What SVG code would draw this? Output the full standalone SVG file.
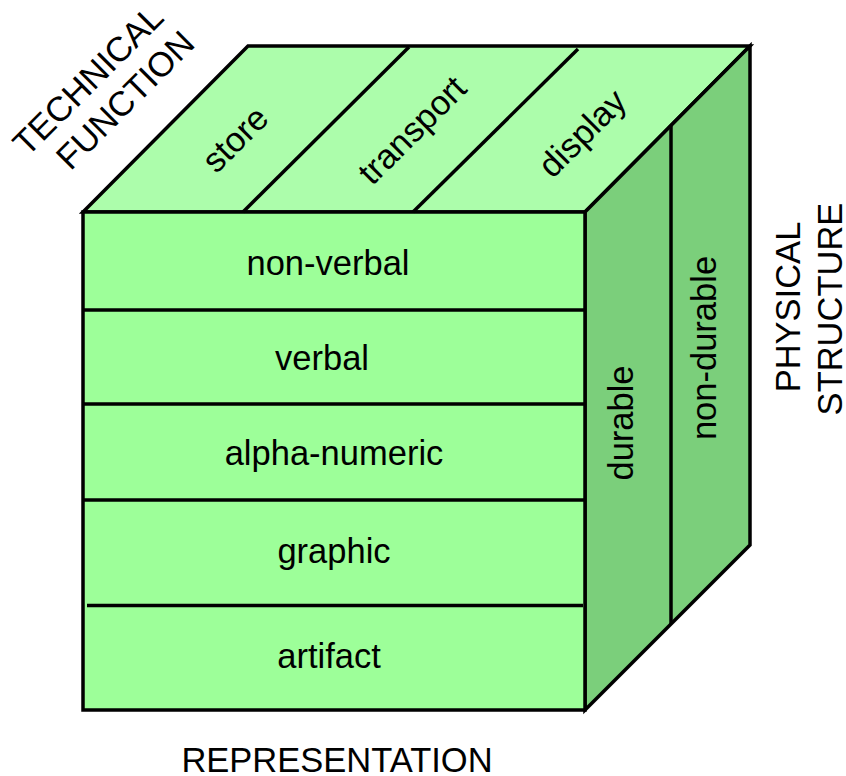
<svg xmlns="http://www.w3.org/2000/svg" width="846" height="776" viewBox="0 0 846 776">
  <style>
    .edge { stroke: #000; stroke-width: 3.5; stroke-linejoin: miter; }
    .front { fill: #9dff99; }
    .top { fill: #acfdab; }
    .side { fill: #7bcf7b; }
    .lbl { font-family: "Liberation Sans", Arial, Helvetica, sans-serif; font-size: 34.5px; fill: #000; }
  </style>

  <!-- cube faces -->
  <g id="top-face">
    <polygon class="top edge" points="83,212 248,46 750,46 585,212"/>
  </g>
  <g id="right-face">
    <polygon class="side edge" points="585,212 750,46 750,545 585,710"/>
  </g>
  <g id="front-face">
    <rect class="front edge" x="83" y="212" width="502" height="498"/>
  </g>

  <!-- dividing lines between the cells -->
  <g id="connectors" class="edge" fill="none">
    <line x1="243" y1="212" x2="409" y2="47"/>
    <line x1="413" y1="212" x2="578" y2="49"/>
    <line x1="671" y1="126" x2="671" y2="624"/>
    <line x1="83" y1="310" x2="585" y2="310"/>
    <line x1="83" y1="404" x2="585" y2="404"/>
    <line x1="83" y1="500" x2="585" y2="500"/>
    <line x1="87" y1="605.5" x2="583" y2="605.5"/>
  </g>

  <!-- technical function cells -->
  <g id="store">
    <text class="lbl" text-anchor="middle" transform="translate(235,139) rotate(-45)" y="12">store</text>
  </g>
  <g id="transport">
    <text class="lbl" text-anchor="middle" transform="translate(412,130) rotate(-45)" y="12">transport</text>
  </g>
  <g id="display">
    <text class="lbl" text-anchor="middle" transform="translate(582,133) rotate(-45)" y="12">display</text>
  </g>

  <!-- representation cells -->
  <g id="non-verbal"><text class="lbl" text-anchor="middle" x="328" y="275">non-verbal</text></g>
  <g id="verbal"><text class="lbl" text-anchor="middle" x="322" y="370">verbal</text></g>
  <g id="alpha-numeric"><text class="lbl" text-anchor="middle" x="334" y="465">alpha-numeric</text></g>
  <g id="graphic"><text class="lbl" text-anchor="middle" x="334" y="563">graphic</text></g>
  <g id="artifact"><text class="lbl" text-anchor="middle" x="329" y="668">artifact</text></g>

  <!-- physical structure cells -->
  <g id="durable">
    <text class="lbl" text-anchor="middle" transform="translate(633,423) rotate(-90)">durable</text>
  </g>
  <g id="non-durable">
    <text class="lbl" text-anchor="middle" transform="translate(716,348) rotate(-90)">non-durable</text>
  </g>

  <!-- axis titles -->
  <g id="axis-technical-function">
    <text class="lbl" text-anchor="middle" transform="translate(88,80) rotate(-45)" y="12">TECHNICAL</text>
    <text class="lbl" text-anchor="middle" transform="translate(125,100) rotate(-45)" y="12">FUNCTION</text>
  </g>
  <g id="axis-physical-structure">
    <text class="lbl" text-anchor="middle" transform="translate(800,307) rotate(-90)">PHYSICAL</text>
    <text class="lbl" text-anchor="middle" transform="translate(842,309) rotate(-90)">STRUCTURE</text>
  </g>
  <g id="axis-representation">
    <text class="lbl" text-anchor="middle" x="337" y="772">REPRESENTATION</text>
  </g>
</svg>
